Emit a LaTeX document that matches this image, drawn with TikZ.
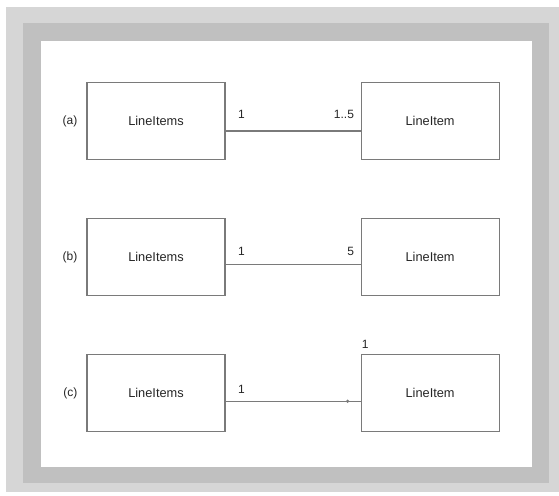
\documentclass[tikz,border=0pt]{standalone}
\usepackage{fontspec}
\setmainfont{Liberation Sans}
\usetikzlibrary{positioning}
\definecolor{framelight}{HTML}{D6D6D6}
\definecolor{framedark}{HTML}{C0C0C0}
\definecolor{linegray}{HTML}{7A7A7A}

\begin{document}
\begin{tikzpicture}[x=1pt, y=-1pt,
    class/.style={rectangle, draw=linegray, line width=1.1pt, minimum width=138pt, minimum height=77pt, inner sep=0pt, font=\fontsize{12.8}{14}\selectfont, text=black!85},
    mult/.style={font=\fontsize{12}{14}\selectfont, inner sep=0pt, text=black!85},
    tag/.style={font=\fontsize{12}{14}\selectfont, inner sep=0pt, text=black!85},
    assoc/.style={draw=linegray, line width=1.1pt}
]
\fill[white] (0,0) rectangle (559,495);
\fill[framelight] (6,7) rectangle (559,492);
\fill[framedark] (23,23) rectangle (549,483);
\fill[white] (41,41) rectangle (532,467);
\useasboundingbox (0,0) rectangle (559,495);

\node[class] (la) at (156,121) {LineItems};
\node[class, right=135pt of la] (ra) {LineItem};
\node[class, below=58pt of la] (lb) {LineItems};
\node[class, right=135pt of lb] (rb) {LineItem};
\node[class, below=58pt of lb] (lc) {LineItems};
\node[class, right=135pt of lc] (rc) {LineItem};

\node[tag, left=9pt of la] (ta) {(a)};
\node[tag, left=9pt of lb] (tb) {(b)};
\node[tag, left=9pt of lc] (tc) {(c)};

\draw[assoc] ([yshift=-10pt]la.east) -- ([yshift=-10pt]ra.west)
    node[mult, pos=0, anchor=south west, xshift=12pt, yshift=12pt] {1}
    node[mult, pos=1, anchor=south east, xshift=-6pt, yshift=12pt] {1..5};
\draw[assoc] ([yshift=-7pt]lb.east) -- ([yshift=-7pt]rb.west)
    node[mult, pos=0, anchor=south west, xshift=12pt, yshift=8pt] {1}
    node[mult, pos=1, anchor=south east, xshift=-6pt, yshift=8pt] {5};
\draw[assoc] ([yshift=-8pt]lc.east) -- coordinate[pos=0.904] (navc) ([yshift=-8pt]rc.west)
    node[mult, pos=0, anchor=south west, xshift=12pt, yshift=7pt] {1};
\fill[linegray] (navc) circle (1.8pt);
\node[mult, anchor=south west, xshift=1pt, yshift=5pt] (mc) at (rc.north west) {1};
\end{tikzpicture}
\end{document}
